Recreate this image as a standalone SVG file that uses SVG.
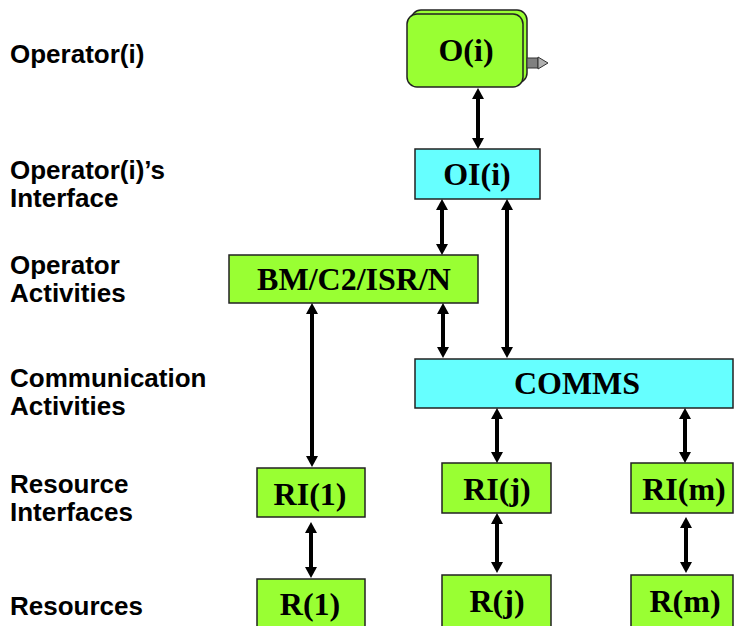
<svg xmlns="http://www.w3.org/2000/svg" width="734" height="626" viewBox="0 0 734 626">
<style>
.lbl{font-family:"Liberation Sans",Arial,sans-serif;font-weight:bold;font-size:26px;fill:#000}
.nt{font-family:"Liberation Serif","Times New Roman",serif;font-weight:bold;font-size:32px;fill:#000;text-anchor:middle}
.g{fill:#99FF33;stroke:#222;stroke-width:1.5}
.c{fill:#66FFFF;stroke:#222;stroke-width:1.5}
.con path{fill:none;stroke:#000;stroke-width:4;marker-start:url(#ah);marker-end:url(#ah)}
</style>
<defs>
<marker id="ah" markerUnits="userSpaceOnUse" markerWidth="11" markerHeight="12" refX="0" refY="6" orient="auto-start-reverse" viewBox="0 0 11 12">
<path d="M0,0 L11,6 L0,12 z" fill="#000"/>
</marker>
</defs>
<rect width="734" height="626" fill="#fff"/>
<g id="labels">
<text class="lbl" x="10" y="63">Operator(i)</text>
<text class="lbl" x="10" y="179">Operator(i)’s</text>
<text class="lbl" x="10" y="207">Interface</text>
<text class="lbl" x="10" y="274">Operator</text>
<text class="lbl" x="10" y="302">Activities</text>
<text class="lbl" x="10" y="387">Communication</text>
<text class="lbl" x="10" y="415">Activities</text>
<text class="lbl" x="10" y="493">Resource</text>
<text class="lbl" x="10" y="521">Interfaces</text>
<text class="lbl" x="10" y="615">Resources</text>
</g>
<g id="node-Oi">
<rect class="g" x="411" y="10" width="116" height="73" rx="10"/>
<rect class="g" x="407" y="14" width="116" height="73" rx="10"/>
<rect x="527" y="58" width="11" height="10" fill="#808080" stroke="#333" stroke-width="1"/>
<path d="M538,57 L548,63 L538,69 z" fill="#b0b0b0" stroke="#333" stroke-width="1"/>
<text class="nt" x="466" y="61">O(i)</text>
</g>
<g id="node-OIi">
<rect class="c" x="415" y="149" width="125" height="50"/>
<text class="nt" x="477" y="185">OI(i)</text>
</g>
<g id="node-BM">
<rect class="g" x="229" y="255" width="249" height="48"/>
<text class="nt" x="354" y="290">BM/C2/ISR/N</text>
</g>
<g id="node-COMMS">
<rect class="c" x="415" y="359" width="318" height="49"/>
<text class="nt" x="577" y="394">COMMS</text>
</g>
<g id="node-RI1">
<rect class="g" x="257" y="468" width="108" height="49"/>
<text class="nt" x="310" y="505">RI(1)</text>
</g>
<g id="node-RIj">
<rect class="g" x="442" y="463" width="109" height="50"/>
<text class="nt" x="497" y="500">RI(j)</text>
</g>
<g id="node-RIm">
<rect class="g" x="631" y="463" width="102" height="50"/>
<text class="nt" x="684" y="500">RI(m)</text>
</g>
<g id="node-R1">
<rect class="g" x="257" y="579" width="108" height="60"/>
<text class="nt" x="310" y="615">R(1)</text>
</g>
<g id="node-Rj">
<rect class="g" x="442" y="575" width="109" height="60"/>
<text class="nt" x="497" y="612">R(j)</text>
</g>
<g id="node-Rm">
<rect class="g" x="631" y="575" width="102" height="60"/>
<text class="nt" x="685" y="612">R(m)</text>
</g>
<g id="connectors" class="con">
<path d="M478,99 L478,138"/>
<path d="M442,210 L442,244"/>
<path d="M507,210 L507,347"/>
<path d="M443,314 L443,347"/>
<path d="M312,314 L312,456"/>
<path d="M497,419 L497,452"/>
<path d="M685,419 L685,452"/>
<path d="M311,533 L311,567"/>
<path d="M497,524 L497,562"/>
<path d="M686,528 L686,562"/>
</g>
</svg>
